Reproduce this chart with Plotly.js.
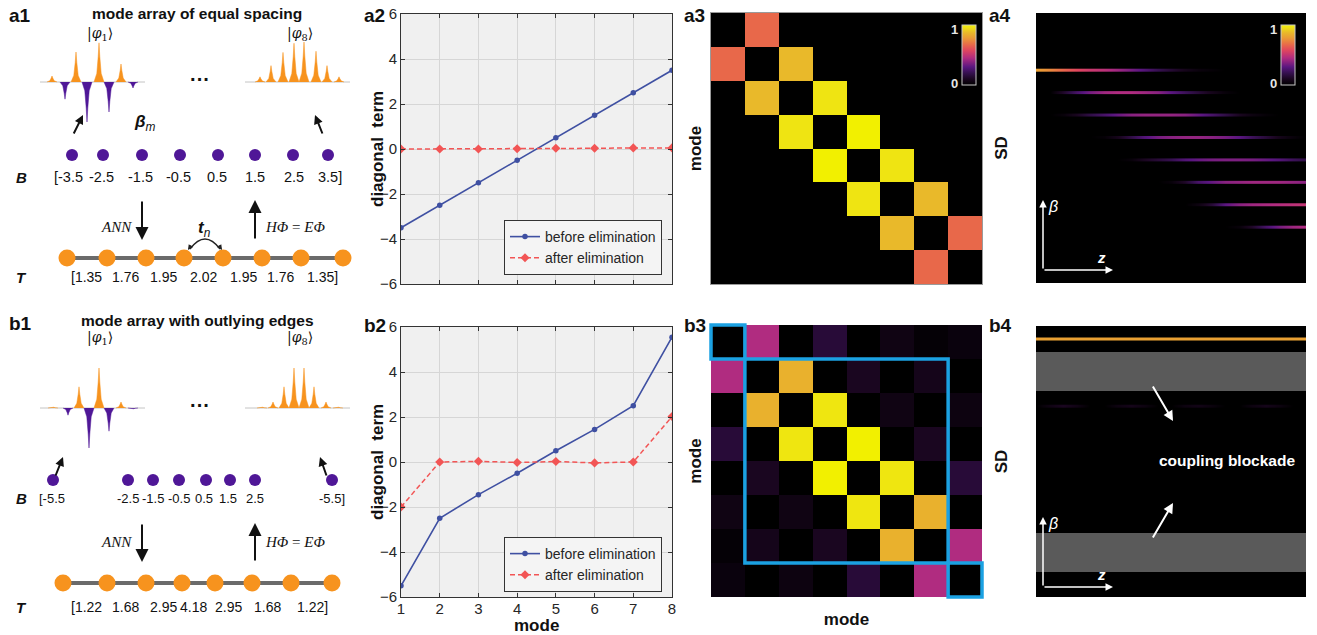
<!DOCTYPE html>
<html><head><meta charset="utf-8">
<script src="https://cdn.plot.ly/plotly-3.0.1.min.js"></script>
<style>html,body{margin:0;padding:0;background:#fff;}#chart{width:1317px;height:635px;}</style>
</head><body><div id="chart"></div>
<script>
// ================= DATA =================
const modes = [1, 2, 3, 4, 5, 6, 7, 8];
// a2 / b2 : diagonal terms
const a2Before = [-3.5, -2.5, -1.5, -0.5, 0.5, 1.5, 2.5, 3.5];
const a2After  = [0.0, 0.0, 0.0, 0.01, 0.03, 0.03, 0.05, 0.05];
const b2Before = [-5.5, -2.5, -1.45, -0.5, 0.5, 1.45, 2.5, 5.55];
const b2After  = [-2.0, 0.0, 0.03, -0.02, 0.02, -0.04, 0.0, 2.02];
// a1 / b1 : propagation constants B and couplings T
const a1B = [-3.5, -2.5, -1.5, -0.5, 0.5, 1.5, 2.5, 3.5];
const a1T = [1.35, 1.76, 1.95, 2.02, 1.95, 1.76, 1.35];
const b1B = [-5.5, -2.5, -1.5, -0.5, 0.5, 1.5, 2.5, -5.5];
const b1T = [1.22, 1.68, 2.95, 4.18, 2.95, 1.68, 1.22];
// eigenmode amplitudes (normalised)
const a1Phi1 = [0.15, -0.43, 0.75, -1, 0.98, -0.75, 0.45, -0.15];
const a1Phi8 = [0.13, 0.41, 0.74, 0.97, 1, 0.77, 0.41, 0.13];
const b1Phi1 = [0.03, -0.18, 0.53, -1, 1, -0.58, 0.15, -0.03];
const b1Phi8 = [0.03, 0.15, 0.53, 1, 1, 0.53, 0.15, 0.03];
// b3 : normalised coupling-matrix magnitude
const b3Matrix = [
  [0, 0.45, 0, 0.15, 0, 0.06, 0.02, 0.04],
  [0.45, 0, 0.85, 0, 0.10, 0, 0.08, 0],
  [0, 0.85, 0, 0.97, 0, 0.06, 0, 0.05],
  [0.15, 0, 0.97, 0, 1.0, 0, 0.10, 0],
  [0, 0.10, 0, 1.0, 0, 0.97, 0, 0.15],
  [0.06, 0, 0.06, 0, 0.97, 0, 0.85, 0],
  [0.02, 0.08, 0, 0.10, 0, 0.85, 0, 0.45],
  [0.04, 0, 0.05, 0, 0.15, 0, 0.45, 0]
];
const b3Boxes = [[1, 1], [2, 7], [8, 8]]; // mode ranges framed in blue
// a4 / b4 : propagation along z
const zSamples = [0, 0.05, 0.1, 0.15, 0.2, 0.25, 0.3, 0.35, 0.4, 0.45, 0.5, 0.55, 0.6, 0.65, 0.7, 0.75, 0.8, 0.85, 0.9, 0.95, 1];
const a4Beta = [3.5, 2.5, 1.5, 0.5, -0.5, -1.5, -2.5, -3.5];
const a4Profiles = [
  [0.80, 0.74, 0.66, 0.58, 0.52, 0.48, 0.42, 0.35, 0.28, 0.20, 0.14, 0.08, 0.04, 0.02, 0, 0, 0, 0, 0, 0, 0],
  [0, 0, 0.12, 0.25, 0.35, 0.42, 0.45, 0.45, 0.42, 0.38, 0.30, 0.22, 0.15, 0.08, 0.03, 0, 0, 0, 0, 0, 0],
  [0, 0, 0.03, 0.10, 0.18, 0.25, 0.32, 0.38, 0.40, 0.40, 0.40, 0.38, 0.32, 0.25, 0.18, 0.10, 0.05, 0.02, 0, 0, 0],
  [0, 0, 0, 0, 0, 0.02, 0.08, 0.18, 0.28, 0.35, 0.38, 0.40, 0.40, 0.38, 0.35, 0.30, 0.22, 0.15, 0.08, 0.03, 0],
  [0, 0, 0, 0, 0, 0, 0, 0.03, 0.10, 0.15, 0.20, 0.28, 0.32, 0.35, 0.36, 0.36, 0.35, 0.32, 0.28, 0.22, 0.18],
  [0, 0, 0, 0, 0, 0, 0, 0, 0, 0, 0.03, 0.12, 0.25, 0.32, 0.38, 0.40, 0.42, 0.42, 0.42, 0.40, 0.38],
  [0, 0, 0, 0, 0, 0, 0, 0, 0, 0, 0, 0, 0.05, 0.15, 0.30, 0.38, 0.42, 0.44, 0.46, 0.48, 0.50],
  [0, 0, 0, 0, 0, 0, 0, 0, 0, 0, 0, 0, 0, 0, 0, 0.03, 0.12, 0.25, 0.35, 0.42, 0.45]
];
const b4Beta = [5.5, 2.5, 1.5, 0.5, -0.5, -1.5, -2.5, -5.5];
const b4RowBeta = [5.5, 2.5];
const b4Profiles = [
  [0.80, 0.80, 0.80, 0.80, 0.80, 0.80, 0.80, 0.80, 0.80, 0.80, 0.80, 0.80, 0.80, 0.80, 0.80, 0.80, 0.80, 0.80, 0.80, 0.80, 0.80],
  [0, 0.06, 0.10, 0.06, 0, 0, 0.05, 0.08, 0.05, 0, 0, 0.05, 0.07, 0.04, 0, 0, 0.05, 0.08, 0.05, 0, 0]
];
const blockadeBands = [[3.17, 4.91], [-4.91, -3.17]];

// ================= STYLE / LAYOUT CONSTANTS =================
const W = 1317, H = 635;
const fx = p => p / W, fy = p => 1 - p / H;
const SANS = "'Liberation Sans',Arial,sans-serif";
const SERIF = "'Liberation Serif','DejaVu Serif',serif";
const MATH = "'DejaVu Serif','Liberation Serif',serif";
const INK = '#111';
const BLUE = '#3f50a2', RED = '#f25555', PURPLE = '#4f1797', ORANGE = '#f7931e', RING = '#e8701a';
const CS = [[0, '#000000'], [0.1, '#1a0620'], [0.2, '#35104f'], [0.3, '#5a1680'], [0.45, '#b02c80'],
            [0.58, '#e0465e'], [0.67, '#e8694a'], [0.78, '#ea9a36'], [0.87, '#e9b82a'], [0.96, '#eee215'], [1, '#f2f000']];
const A2 = {x: [401, 672], y: [14, 284]}, B2 = {x: [401, 672], y: [327, 597]};
const A3 = {x: [711, 982], y: [13, 284]}, B3 = {x: [711, 982], y: [325, 597]};
const A4 = {x: [1036, 1306], y: [13, 283]}, B4 = {x: [1036, 1306], y: [326, 597]};
const a4Range = [-6.0, 6.04], b4Range = [-6.03, 6.07];
const dotZ = -0.048, beamHalf = 0.028;

// schematic geometry (pixel units)
const S = {
  a: {base: 82, p1X: [52, 65, 76, 87, 99, 109, 121, 133], p8X: [260, 271, 283, 294, 304, 316, 327, 339],
      dotY: 155, dotX: [72, 103, 142, 180, 218, 255, 293, 328], bY: 177, bX: [68, 101, 140, 178, 217, 255, 294, 330], bSize: 14.5,
      chainY: 258, chainX: [67, 107, 146, 184, 223, 262, 301, 343], tY: 277, tX: [86, 125, 163, 203, 243, 280, 322],
      arr: [200, 240], annY: 227, title: 13, ket: 34, ptrL: [73, 135, 83, 115], ptrR: [323, 135, 315, 115], label: 15, letterY: [177, 277]},
  b: {base: 408, p1X: [53, 68, 79, 89, 99, 109, 121, 133], p8X: [262, 273, 284, 294, 304, 314, 326, 338],
      dotY: 480, dotX: [53, 128, 153, 179, 206, 230, 255, 332], bY: 498, bX: [52, 128, 153, 179, 204, 228, 255, 332], bSize: 13,
      chainY: 583, chainX: [63, 107, 146, 182, 215, 252, 291, 332], tY: 607, tX: [86, 125, 163, 193, 228, 267, 312],
      arr: [523, 562], annY: 542, title: 320, ket: 338, ptrL: [55, 477, 63, 457], ptrR: [327, 477, 320, 457], label: 323, letterY: [498, 607]}
};
const spikeScale = 40;

// ================= TRACES =================
const data = [];
function lineTrace(y, xa, ya, lg, before) {
  return {type: 'scatter', mode: 'lines+markers', x: modes, y: y, xaxis: xa, yaxis: ya, legend: lg,
    name: before ? 'before elimination' : 'after elimination',
    line: before ? {color: BLUE, width: 1.6} : {color: RED, width: 1.5, dash: '5px,3px'},
    marker: before ? {color: BLUE, size: 5.5} : {color: RED, size: 7, symbol: 'diamond'}, hoverinfo: 'skip'};
}
data.push(lineTrace(a2Before, 'x', 'y', 'legend', true), lineTrace(a2After, 'x', 'y', 'legend', false));
data.push(lineTrace(b2Before, 'x2', 'y2', 'legend2', true), lineTrace(b2After, 'x2', 'y2', 'legend2', false));

const tMax = Math.max(...a1T);
const a3Matrix = modes.map((r, i) => modes.map((c, j) => Math.abs(i - j) === 1 ? a1T[Math.min(i, j)] / tMax : 0));
const cbA3 = {x: fx(962), xanchor: 'left', y: fy(55), yanchor: 'middle', len: 60, lenmode: 'pixels', thickness: 14,
  thicknessmode: 'pixels', outlinewidth: 1, outlinecolor: '#c8c8c8', showticklabels: false, ticks: '', xpad: 0, ypad: 0};
const cbA4 = Object.assign({}, cbA3, {x: fx(1281)});
data.push({type: 'heatmap', x: modes, y: modes, z: a3Matrix, zmin: 0, zmax: 1, colorscale: CS, xaxis: 'x3', yaxis: 'y3',
  showscale: true, colorbar: cbA3, hoverinfo: 'skip'});
data.push({type: 'heatmap', x: modes, y: modes, z: b3Matrix, zmin: 0, zmax: 1, colorscale: CS, xaxis: 'x4', yaxis: 'y4',
  showscale: false, hoverinfo: 'skip'});

function beam(beta, prof, xa, ya, show, cb) {
  return {type: 'heatmap', x: zSamples, y: [beta - beamHalf, beta + beamHalf], z: [prof, prof], zmin: 0, zmax: 1,
    colorscale: CS, zsmooth: 'best', showscale: !!show, colorbar: cb, xaxis: xa, yaxis: ya, hoverinfo: 'skip'};
}
a4Beta.forEach((b, i) => data.push(beam(b, a4Profiles[i], 'x5', 'y5', i === 0, cbA4)));
b4RowBeta.forEach((b, i) => data.push(beam(b, b4Profiles[i], 'x6', 'y6', false)));

function dots(betas, xa, ya) {
  data.push({type: 'scatter', mode: 'markers', x: [dotZ], y: [betas[0]], xaxis: xa, yaxis: ya, cliponaxis: false,
    marker: {color: RING, size: 21}, hoverinfo: 'skip', showlegend: false});
  data.push({type: 'scatter', mode: 'markers', x: betas.map(() => dotZ), y: betas, xaxis: xa, yaxis: ya, cliponaxis: false,
    marker: {color: PURPLE, size: 12}, hoverinfo: 'skip', showlegend: false});
}
dots(a4Beta, 'x5', 'y5');
dots(b4Beta, 'x6', 'y6');

// schematic traces (x7/y7 in pixel units)
function sch(o) { return Object.assign({xaxis: 'x7', yaxis: 'y7', hoverinfo: 'skip', showlegend: false, cliponaxis: false}, o); }
function spikes(xs, amps, base, positive) {
  const X = [], Y = [];
  xs.forEach((x, i) => {
    const a = amps[i];
    if ((a > 0) !== positive || a === 0) return;
    const h = a * spikeScale;
    X.push(x - 5, x - 2.2, x - 0.8, x, x + 0.8, x + 2.2, x + 5, null);
    Y.push(base, base - 0.22 * h, base - 0.65 * h, base - h, base - 0.65 * h, base - 0.22 * h, base, null);
  });
  return sch({type: 'scatter', mode: 'lines', x: X, y: Y, fill: 'toself', line: {width: 0.5, color: positive ? ORANGE : PURPLE},
    fillcolor: positive ? ORANGE : PURPLE});
}
[['a', a1Phi1, a1Phi8, a1B], ['b', b1Phi1, b1Phi8, b1B]].forEach(([k, p1, p8, B]) => {
  const g = S[k];
  data.push(sch({type: 'scatter', mode: 'lines', x: [40, 145, null, 245, 350], y: [g.base, g.base, null, g.base, g.base],
    line: {color: '#c4c4c4', width: 1}}));
  data.push(spikes(g.p1X, p1, g.base, true), spikes(g.p1X, p1, g.base, false));
  data.push(spikes(g.p8X, p8, g.base, true), spikes(g.p8X, p8, g.base, false));
  data.push(sch({type: 'scatter', mode: 'markers', x: g.dotX.slice(0, B.length), y: B.map(() => g.dotY),
    marker: {color: PURPLE, size: 12}}));
  data.push(sch({type: 'scatter', mode: 'lines', x: [g.chainX[0], g.chainX[g.chainX.length - 1]], y: [g.chainY, g.chainY],
    line: {color: '#6b6b6b', width: 4}}));
  data.push(sch({type: 'scatter', mode: 'markers', x: g.chainX, y: g.chainX.map(() => g.chainY),
    marker: {color: ORANGE, size: 17}}));
});

// ================= ANNOTATIONS =================
const ann = [];
function txt(x, y, text, size, o) {
  ann.push(Object.assign({xref: 'x7', yref: 'y7', x: x, y: y, text: text, showarrow: false, xanchor: 'center', yanchor: 'middle',
    font: {family: SANS, size: size, color: INK}}, o || {}));
}
function arrow(x0, y0, x1, y1, color, w, size) {
  ann.push({xref: 'x7', yref: 'y7', axref: 'x7', ayref: 'y7', x: x1, y: y1, ax: x0, ay: y0, text: '', showarrow: true,
    arrowhead: 2, arrowsize: size || 1, arrowwidth: w, arrowcolor: color, standoff: 0, startstandoff: 0});
}
const fmtB = (v, i, arr) => (i === 0 ? '[' : '') + v.toFixed(1) + (i === arr.length - 1 ? ']' : '');
const fmtT = (v, i, arr) => (i === 0 ? '[' : '') + v.toFixed(2) + (i === arr.length - 1 ? ']' : '');
[['a', 'mode array of equal spacing', a1B, a1T], ['b', 'mode array with outlying edges', b1B, b1T]].forEach(([k, title, B, T]) => {
  const g = S[k];
  txt(7, g.label, '<b>' + k + '1</b>', 19, {xanchor: 'left'});
  txt(197, g.title, '<b>' + title + '</b>', 15.5);
  txt(100, g.ket, '|<i>φ</i><sub>1</sub>⟩', 14, {font: {family: MATH, size: 14, color: INK}});
  txt(300, g.ket, '|<i>φ</i><sub>8</sub>⟩', 14, {font: {family: MATH, size: 14, color: INK}});
  txt(200, g.base - 3, '<b>···</b>', 20);
  arrow(g.ptrL[0], g.ptrL[1], g.ptrL[2], g.ptrL[3], INK, 2, 0.9);
  arrow(g.ptrR[0], g.ptrR[1], g.ptrR[2], g.ptrR[3], INK, 2, 0.9);
  txt(21, g.letterY[0], '<b><i>B</i></b>', 15);
  txt(21, g.letterY[1], '<b><i>T</i></b>', 15);
  B.forEach((v, i) => txt(g.bX[i], g.bY, fmtB(v, i, B), g.bSize));
  T.forEach((v, i) => txt(g.tX[i], g.tY, fmtT(v, i, T), 14));
  arrow(142, g.arr[0], 142, g.arr[1], INK, 2, 1.3);
  arrow(255, g.arr[1], 255, g.arr[0], INK, 2, 1.3);
  txt(134, g.annY, '<i>ANN</i>', 15, {xanchor: 'right', font: {family: SERIF, size: 15, color: INK}});
  txt(263, g.annY, '<i>H</i><i>Φ</i> = <i>E</i><i>Φ</i>', 15, {xanchor: 'left', font: {family: SERIF, size: 15, color: INK}});
});
txt(145, 123, '<b><i>β</i></b><sub><i>m</i></sub>', 17);
txt(204, 229, '<b><i>t</i></b><sub><i>n</i></sub>', 17);
arrow(192, 244, 188, 250, '#222', 1.3, 0.8);
arrow(218, 244, 222, 250, '#222', 1.3, 0.8);
// panel labels
[['a2', 362, 15], ['a3', 682, 15], ['a4', 987, 15], ['b2', 362, 325], ['b3', 682, 325], ['b4', 987, 325]].forEach(([t, x, y]) =>
  txt(x, y, '<b>' + t + '</b>', 19, {xanchor: 'left'}));
// axis titles of the line plots
[29, 342].forEach(y0 => txt(377, y0 + 120, '<b>diagonal\u00a0 term</b>', 17, {textangle: -90}));
txt(536, 625, '<b>mode</b>', 17);
// colourbar labels
[954, 1273].forEach(x => {
  txt(x, 29, '<b>1</b>', 13, {font: {family: SANS, size: 13, color: '#e6e6e6'}});
  txt(x, 83, '<b>0</b>', 13, {font: {family: SANS, size: 13, color: '#e6e6e6'}});
});
// beta / z frames
[270, 587].forEach(y0 => {
  arrow(1043, y0, 1043, y0 - 70, '#fff', 1.5, 1);
  arrow(1043, y0, 1113, y0, '#fff', 1.5, 1);
  txt(1053, y0 - 64, '<i>β</i>', 16, {font: {family: SANS, size: 16, color: '#fff'}});
  txt(1101, y0 - 13, '<b><i>z</i></b>', 15, {font: {family: SANS, size: 15, color: '#fff'}});
});
txt(1227, 460, '<b>coupling blockade</b>', 15.5, {font: {family: SANS, size: 15.5, color: '#fff'}});
arrow(1152, 385, 1173, 421, '#fff', 2, 1);
arrow(1152, 539, 1173, 503, '#fff', 2, 1);

// ================= SHAPES =================
const shapes = [
  {type: 'rect', xref: 'x', yref: 'y', x0: 1, x1: 8, y0: -6, y1: 6, fillcolor: '#f0f0f0', line: {width: 0}, layer: 'below'},
  {type: 'rect', xref: 'x2', yref: 'y2', x0: 1, x1: 8, y0: -6, y1: 6, fillcolor: '#f0f0f0', line: {width: 0}, layer: 'below'},
  {type: 'rect', xref: 'x5', yref: 'y5', x0: 0, x1: 1, y0: a4Range[0], y1: a4Range[1], fillcolor: '#000', line: {width: 0}, layer: 'below'},
  {type: 'rect', xref: 'x6', yref: 'y6', x0: 0, x1: 1, y0: b4Range[0], y1: b4Range[1], fillcolor: '#000', line: {width: 0}, layer: 'below'},
  {type: 'path', xref: 'x7', yref: 'y7', path: 'M190,249 Q205,229 220,249', line: {color: '#222', width: 1.3}}
];
blockadeBands.forEach(b => shapes.push({type: 'rect', xref: 'x6', yref: 'y6', x0: 0, x1: 1, y0: b[0], y1: b[1],
  fillcolor: '#5a5a5a', line: {width: 0}, layer: 'below'}));
const bx0 = fx(B3.x[0]), bw = fx(B3.x[1]) - fx(B3.x[0]);
const by1 = fy(B3.y[0]), bh = fy(B3.y[0]) - fy(B3.y[1]);
b3Boxes.forEach(([m0, m1]) => shapes.push({type: 'rect', xref: 'paper', yref: 'paper',
  x0: bx0 + (m0 - 1) / 8 * bw, x1: bx0 + m1 / 8 * bw, y1: by1 - (m0 - 1) / 8 * bh, y0: by1 - m1 / 8 * bh,
  line: {color: '#1ba1e2', width: 3.5}, fillcolor: 'rgba(0,0,0,0)'}));

// ================= AXES =================
const tickF = {family: SANS, size: 15, color: '#262626'};
const boldTitle = (t, standoff) => ({text: '<b>' + t + '</b>', font: {family: SANS, size: 17, color: INK}, standoff: standoff});
function lineX(dom, anchor, labels) {
  return {domain: [fx(dom.x[0]), fx(dom.x[1])], anchor: anchor, range: [1, 8], tickvals: modes, showticklabels: labels,
    tickfont: tickF, ticklabelstandoff: -2, showgrid: true, gridcolor: '#d6d6d6', gridwidth: 1, zeroline: false, ticks: 'inside', ticklen: 4,
    tickcolor: '#333', showline: true, mirror: 'ticks', linecolor: '#333', linewidth: 1, automargin: false, fixedrange: true};
}
function lineY(dom, anchor) {
  return {domain: [fy(dom.y[1]), fy(dom.y[0])], anchor: anchor, range: [-6, 6], dtick: 2, tickfont: tickF, showgrid: true,
    gridcolor: '#d6d6d6', zeroline: false, ticks: 'inside', ticklen: 4, tickcolor: '#333', showline: true, mirror: 'ticks',
    linecolor: '#333', linewidth: 1, automargin: false, fixedrange: true};
}
function bareX(dom, anchor, range, line, title, standoff) {
  return {domain: [fx(dom.x[0]), fx(dom.x[1])], anchor: anchor, range: range, showticklabels: false, ticks: '', showgrid: false,
    zeroline: false, showline: line, mirror: line, linecolor: '#9a9a9a', automargin: false, fixedrange: true,
    title: title ? boldTitle(title, standoff) : undefined};
}
function bareY(dom, anchor, range, line, title, standoff) {
  return {domain: [fy(dom.y[1]), fy(dom.y[0])], anchor: anchor, range: range, showticklabels: false, ticks: '', showgrid: false,
    zeroline: false, showline: line, mirror: line, linecolor: '#9a9a9a', automargin: false, fixedrange: true,
    title: title ? boldTitle(title, standoff) : undefined};
}
const legendBase = {xanchor: 'right', yanchor: 'bottom', bgcolor: '#f4f4f4', bordercolor: '#333', borderwidth: 1,
  font: {family: SANS, size: 14, color: '#262626'}, tracegroupgap: 0};

const layout = {
  width: W, height: H, margin: {l: 0, r: 0, t: 0, b: 0}, paper_bgcolor: '#fff', plot_bgcolor: 'rgba(0,0,0,0)',
  showlegend: true,
  legend: Object.assign({}, legendBase, {x: fx(662), y: fy(275)}),
  legend2: Object.assign({}, legendBase, {x: fx(662), y: fy(592)}),
  xaxis: lineX(A2, 'y', false), yaxis: lineY(A2, 'x'),
  xaxis2: lineX(B2, 'y2', true), yaxis2: lineY(B2, 'x2'),
  xaxis3: bareX(A3, 'y3', [0.5, 8.5], true), yaxis3: bareY(A3, 'x3', [8.5, 0.5], true, 'mode', 4),
  xaxis4: bareX(B3, 'y4', [0.5, 8.5], false, 'mode', 16), yaxis4: bareY(B3, 'x4', [8.5, 0.5], false, 'mode', 4),
  xaxis5: bareX(A4, 'y5', [0, 1], false), yaxis5: bareY(A4, 'x5', a4Range, false, 'SD', 23),
  xaxis6: bareX(B4, 'y6', [0, 1], false), yaxis6: bareY(B4, 'x6', b4Range, false, 'SD', 23),
  xaxis7: {domain: [0, 1], anchor: 'y7', range: [0, W], visible: false, fixedrange: true},
  yaxis7: {domain: [0, 1], anchor: 'x7', range: [H, 0], visible: false, fixedrange: true},
  annotations: ann, shapes: shapes
};
Plotly.newPlot('chart', data, layout, {staticPlot: true, displayModeBar: false});
</script></body></html>
